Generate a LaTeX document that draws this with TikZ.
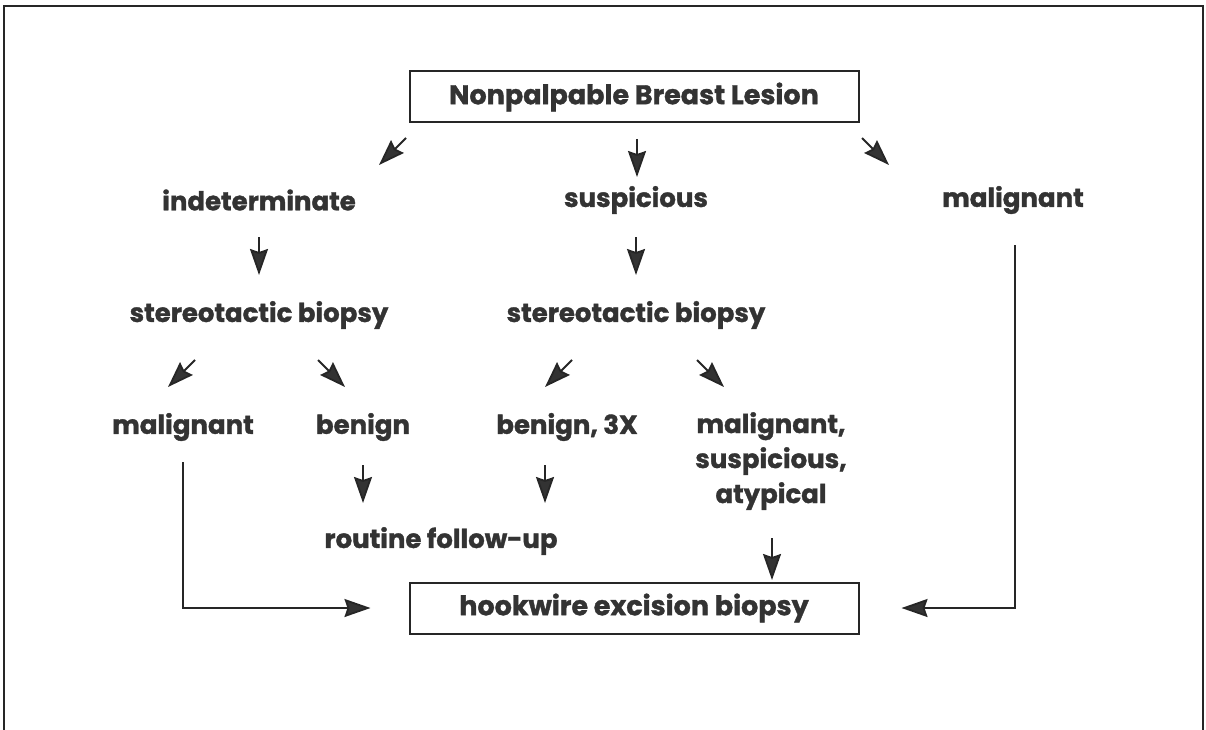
\documentclass[tikz,border=0pt]{standalone}
\usepackage{fontspec}
\setmainfont{Poppins}[BoldFeatures={FakeBold=1.3}]
\usetikzlibrary{arrows.meta}
\definecolor{ink}{HTML}{333333}
\definecolor{rule}{HTML}{262626}
\newcommand\flowfont{\fontsize{26}{35}\selectfont\bfseries}
\tikzset{
  lbl/.style={font=\flowfont, text=ink, inner sep=0pt},
  boxed/.style={lbl, draw=rule, line width=2pt, minimum width=449pt, minimum height=51pt},
  arr/.style={draw=rule, line width=1.8pt, -{Stealth[length=26pt,width=18pt,inset=3pt,fill=ink]}},
}
\begin{document}
\begin{tikzpicture}[x=1pt,y=-1pt]
  \useasboundingbox (0,0) rectangle (1206,730);
  % frame, open at the bottom
  \draw [rule, line width=1.5pt] (4,730) -- (4,6) -- (1203,6) -- (1203,730);
  % nodes
  \node [boxed] (lesion) at (634,97) {\fontsize{27}{35}\selectfont Nonpalpable Breast Lesion};
  \node [lbl] (indet) at (259,200) {indeterminate};
  \node [lbl] (susp) at (636,200) {suspicious};
  \node [lbl] (malig) at (1013,200) {malignant};
  \node [lbl] (stereoL) at (259,315) {stereotactic biopsy};
  \node [lbl] (stereoR) at (636,315) {stereotactic biopsy};
  \node [lbl] (maligL) at (183,427) {malignant};
  \node [lbl] (benign) at (363,427) {benign};
  \node [lbl] (benign3) at (567,427) {benign, 3X};
  \node [lbl, align=center, anchor=north] (maligS) at (771,412) {malignant,\\suspicious,\\atypical};
  \node [lbl] (routine) at (441,541) {routine follow-up};
  \node [boxed] (hook) at (634,608) {\fontsize{27}{35}\selectfont hookwire excision biopsy};
  % short arrows between the rows
  \foreach \name/\a/\b in {l1/{406,138}/{379,165}, m1/{637,139}/{637,177}, r1/{862,138}/{889,165},
      l2/{259,237}/{259,275}, m2/{636,237}/{636,275},
      l3/{195,360}/{168,387}, m3/{318,360}/{345,387}, n3/{572,360}/{545,387}, r3/{697,360}/{724,387},
      l4/{363,465}/{363,503}, m4/{545,465}/{545,503}, r4/{772,538}/{772,580}}{
    \coordinate (\name-s) at (\a);
    \coordinate (\name-e) at (\b);
    \draw [arr] (\name-s) -- (\name-e);
  }
  % long connectors into the bottom box
  \coordinate (maligL-s) at (183,462);
  \coordinate (malig-s) at (1015,245);
  \draw [arr, shorten >=38pt] (maligL-s) |- (hook.west);
  \draw [arr, shorten >=42pt] (malig-s) |- (hook.east);
\end{tikzpicture}
\end{document}
